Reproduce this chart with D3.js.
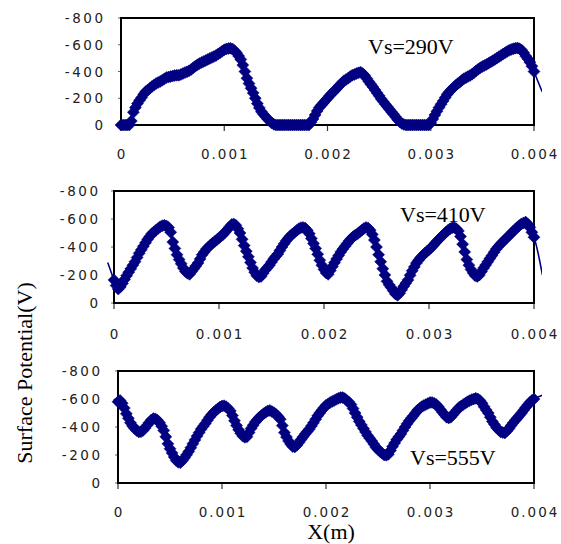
<!DOCTYPE html>
<html>
<head>
<meta charset="utf-8">
<script src="https://cdn.jsdelivr.net/npm/d3@7"></script>
<style>
  html, body { margin: 0; padding: 0; background: #fff; }
  svg { display: block; }
</style>
</head>
<body>
<script>
// Probe positions along the surface, in micrometres (20 µm pitch)
const positionsUm = [
     0,   20,   40,   60,   80,  100,  120,  140,  160,  180,
   200,  220,  240,  260,  280,  300,  320,  340,  360,  380,
   400,  420,  440,  460,  480,  500,  520,  540,  560,  580,
   600,  620,  640,  660,  680,  700,  720,  740,  760,  780,
   800,  820,  840,  860,  880,  900,  920,  940,  960,  980,
  1000, 1020, 1040, 1060, 1080, 1100, 1120, 1140, 1160, 1180,
  1200, 1220, 1240, 1260, 1280, 1300, 1320, 1340, 1360, 1380,
  1400, 1420, 1440, 1460, 1480, 1500, 1520, 1540, 1560, 1580,
  1600, 1620, 1640, 1660, 1680, 1700, 1720, 1740, 1760, 1780,
  1800, 1820, 1840, 1860, 1880, 1900, 1920, 1940, 1960, 1980,
  2000, 2020, 2040, 2060, 2080, 2100, 2120, 2140, 2160, 2180,
  2200, 2220, 2240, 2260, 2280, 2300, 2320, 2340, 2360, 2380,
  2400, 2420, 2440, 2460, 2480, 2500, 2520, 2540, 2560, 2580,
  2600, 2620, 2640, 2660, 2680, 2700, 2720, 2740, 2760, 2780,
  2800, 2820, 2840, 2860, 2880, 2900, 2920, 2940, 2960, 2980,
  3000, 3020, 3040, 3060, 3080, 3100, 3120, 3140, 3160, 3180,
  3200, 3220, 3240, 3260, 3280, 3300, 3320, 3340, 3360, 3380,
  3400, 3420, 3440, 3460, 3480, 3500, 3520, 3540, 3560, 3580,
  3600, 3620, 3640, 3660, 3680, 3700, 3720, 3740, 3760, 3780,
  3800, 3820, 3840, 3860, 3880, 3900, 3920, 3940, 3960, 3980,
  4000
];

// Surface potential (V) at each position, Vs = 290 V
const potential290 = [
     0,    0,    0,    0,    0,  -30,  -95, -130, -160, -185,
  -205, -230, -250, -262, -275, -288, -300, -310, -318, -326,
  -335, -345, -355, -358, -362, -366, -370, -372, -372, -378,
  -385, -392, -398, -405, -415, -428, -440, -450, -460, -468,
  -475, -482, -490, -498, -505, -512, -520, -530, -540, -552,
  -562, -568, -572, -574, -568, -556, -538, -515, -490, -448,
  -400, -350, -310, -275, -240, -200, -160, -128, -100,  -80,
   -62,  -45,  -30,  -15,   -5,    0,    0,    0,    0,    0,
     0,    0,    0,    0,    0,    0,    0,    0,    0,    0,
     0,    0,  -20,  -45,  -75, -105, -130, -148, -165, -183,
  -200, -218, -235, -250, -265, -283, -300, -315, -330, -340,
  -350, -362, -372, -378, -385, -390, -395, -385, -370, -348,
  -325, -305, -285, -262, -240, -218, -195, -175, -155, -136,
  -118,  -98,  -80,  -60,  -40,  -24,  -12,   -4,    0,    0,
     0,    0,    0,    0,    0,    0,    0,    0,    0,    0,
   -15,  -45,  -75, -103, -130, -155, -180, -205, -230, -248,
  -265, -280, -295, -308, -320, -333, -345, -354, -362, -370,
  -380, -392, -405, -417, -428, -437, -445, -453, -462, -471,
  -480, -490, -500, -510, -520, -530, -540, -550, -558, -565,
  -570, -574, -576, -570, -560, -540, -515, -495, -470, -440,
  -400
];

// Surface potential (V), Vs = 410 V
const potential410 = [
  -165, -125, -100, -115, -140, -168, -195, -220, -245, -270,
  -295, -325, -355, -380, -405, -430, -455, -475, -495, -508,
  -520, -533, -545, -552, -555, -550, -540, -505, -435, -390,
  -345, -310, -280, -250, -225, -212, -205, -225, -245, -265,
  -285, -315, -345, -365, -385, -400, -415, -428, -440, -452,
  -465, -478, -490, -508, -525, -543, -560, -565, -555, -530,
  -500, -455, -410, -370, -330, -290, -250, -220, -195, -185,
  -190, -212, -235, -252, -270, -292, -315, -333, -350, -375,
  -400, -423, -445, -463, -480, -493, -505, -518, -530, -538,
  -540, -535, -520, -495, -460, -425, -390, -348, -305, -270,
  -240, -215, -205, -232, -260, -288, -315, -340, -365, -385,
  -405, -425, -445, -460, -475, -485, -495, -508, -520, -532,
  -540, -535, -520, -490, -450, -400, -345, -295, -245, -200,
  -155, -130, -110,  -88,  -65,  -55,  -70,  -95, -120, -142,
  -165, -198, -230, -258, -285, -305, -325, -340, -355, -368,
  -380, -395, -410, -428, -445, -460, -475, -490, -505, -518,
  -530, -537, -540, -530, -515, -475, -420, -365, -310, -270,
  -240, -215, -195, -190, -200, -225, -250, -272, -295, -318,
  -340, -363, -385, -403, -420, -435, -450, -465, -480, -495,
  -510, -525, -540, -553, -565, -572, -578, -565, -540, -505,
  -470
];

// Surface potential (V), Vs = 555 V
const potential555 = [
  -580, -590, -570, -535, -495, -462, -430, -408, -390, -375,
  -365, -366, -375, -392, -412, -432, -450, -460, -458, -448,
  -430, -405, -375, -330, -280, -245, -215, -185, -160, -148,
  -145, -160, -180, -202, -225, -252, -280, -308, -335, -360,
  -385, -405, -425, -448, -470, -488, -505, -518, -530, -542,
  -550, -552, -545, -532, -515, -482, -445, -410, -380, -355,
  -335, -326, -330, -360, -390, -413, -435, -453, -470, -483,
  -495, -505, -515, -518, -510, -502, -490, -475, -455, -410,
  -360, -328, -300, -278, -260, -258, -270, -290, -310, -330,
  -350, -368, -385, -408, -430, -455, -480, -500, -520, -538,
  -555, -565, -575, -583, -590, -598, -605, -610, -610, -603,
  -590, -578, -560, -532, -500, -470, -440, -415, -390, -365,
  -340, -320, -300, -278, -255, -240, -225, -212, -200, -198,
  -205, -232, -260, -285, -310, -330, -350, -375, -400, -423,
  -445, -463, -480, -500, -520, -533, -545, -553, -560, -568,
  -575, -575, -570, -560, -545, -525, -505, -487, -470, -465,
  -470, -488, -505, -523, -540, -550, -560, -570, -580, -588,
  -595, -600, -605, -600, -590, -570, -545, -522, -500, -470,
  -440, -418, -395, -380, -365, -360, -358, -372, -390, -410,
  -430, -448, -465, -483, -500, -520, -540, -558, -575, -590,
  -600
];

// Readings just outside the 0–4 mm window (µm, V); only the trace line reaches them
const outside290 = [[4080, -247]];
const outside410 = [[-60, -290], [4080, -201]];
const outside555 = [[-40, -600], [4080, -626]];

const xTicks = [0, 0.001, 0.002, 0.003, 0.004];
const yTicks = [0, -200, -400, -600, -800];
const panelTitles = ["Vs=290V", "Vs=410V", "Vs=555V"];
const yAxisTitle = "Surface Potential(V)";
const xAxisTitle = "X(m)";

// ---- layout ----
const W = 561, H = 544;
const NAVY = "#000080";
const panels = [
  { values: potential290, outside: outside290, title: panelTitles[0],
    left: 121, right: 534, top: 18, bottom: 125, titleX: 368, titleY: 54, tickLabelY: 159, yLabelRight: 103 },
  { values: potential410, outside: outside410, title: panelTitles[1],
    left: 114, right: 534, top: 191, bottom: 303, titleX: 400, titleY: 222, tickLabelY: 339, yLabelRight: 98 },
  { values: potential555, outside: outside555, title: panelTitles[2],
    left: 118, right: 534, top: 371, bottom: 483, titleX: 410, titleY: 465, tickLabelY: 517, yLabelRight: 100 }
];

const svg = d3.select("body").append("svg")
  .attr("width", W).attr("height", H)
  .attr("viewBox", `0 0 ${W} ${H}`);

svg.append("rect").attr("width", W).attr("height", H).attr("fill", "#fff");

const tickFont = "'DejaVu Sans', Verdana, sans-serif";
const serifFont = "'Liberation Serif', 'Times New Roman', serif";
const diamond = r => `M0,${-r}L${r},0L0,${r}L${-r},0Z`;

panels.forEach((p, i) => {
  const x = d3.scaleLinear().domain([0, 0.004]).range([p.left, p.right]);
  const y = d3.scaleLinear().domain([0, -800]).range([p.bottom, p.top]);
  const g = svg.append("g");

  // x tick marks below the axis
  g.selectAll("line.xt").data(xTicks).join("line")
    .attr("x1", d => x(d)).attr("x2", d => x(d))
    .attr("y1", p.bottom).attr("y2", p.bottom + 6)
    .attr("stroke", "#333").attr("stroke-width", 1.2);

  // short y tick marks outside the frame
  g.selectAll("line.yt").data(yTicks).join("line")
    .attr("x1", p.left - 3).attr("x2", p.left)
    .attr("y1", d => y(d)).attr("y2", d => y(d))
    .attr("stroke", "#666").attr("stroke-width", 1);

  // x tick labels
  g.selectAll("text.xl").data(xTicks).join("text")
    .attr("x", d => x(d) + 1).attr("y", p.tickLabelY)
    .attr("text-anchor", "middle")
    .attr("font-family", tickFont).attr("font-size", 13.5)
    .attr("letter-spacing", "2px").attr("fill", "#222")
    .text(d => d === 0 ? "0" : d3.format(".3f")(d));

  // y tick labels
  g.selectAll("text.yl").data(yTicks).join("text")
    .attr("x", p.yLabelRight + 2.5).attr("y", d => y(d) + 5)
    .attr("text-anchor", "end")
    .attr("font-family", tickFont).attr("font-size", 13.5)
    .attr("letter-spacing", "2.5px").attr("fill", "#222")
    .text(d => String(d));

  // plot frame
  g.append("rect")
    .attr("x", p.left).attr("y", p.top)
    .attr("width", p.right - p.left).attr("height", p.bottom - p.top)
    .attr("fill", "none").attr("stroke", "#000").attr("stroke-width", 2);

  // trace line, allowed to run a few pixels past the frame
  const clipId = "clip" + i;
  svg.append("clipPath").attr("id", clipId).append("rect")
    .attr("x", p.left - 7).attr("y", p.top - 8)
    .attr("width", p.right - p.left + 15).attr("height", p.bottom - p.top + 16);

  const pts = positionsUm.map((u, k) => [u / 1e6, p.values[k]]);
  const linePts = [];
  p.outside.filter(o => o[0] < 0).forEach(o => linePts.push([o[0] / 1e6, o[1]]));
  pts.forEach(q => linePts.push(q));
  p.outside.filter(o => o[0] > 0).forEach(o => linePts.push([o[0] / 1e6, o[1]]));

  g.append("path")
    .attr("clip-path", `url(#${clipId})`)
    .attr("d", d3.line().x(d => x(d[0])).y(d => y(d[1])).curve(d3.curveMonotoneX)(linePts))
    .attr("fill", "none").attr("stroke", NAVY).attr("stroke-width", 1.6);

  // diamond markers
  g.selectAll("path.m").data(pts).join("path")
    .attr("transform", d => `translate(${x(d[0])},${y(d[1])})`)
    .attr("d", diamond(6))
    .attr("fill", NAVY).attr("stroke", NAVY).attr("stroke-width", 0.5);

  // series annotation
  g.append("text")
    .attr("x", p.titleX).attr("y", p.titleY)
    .attr("font-family", serifFont).attr("font-size", 22)
    .attr("fill", "#000").text(p.title);
});

// axis titles
svg.append("text")
  .attr("transform", "translate(32,373) rotate(-90)")
  .attr("text-anchor", "middle")
  .attr("font-family", serifFont).attr("font-size", 22)
  .attr("fill", "#000").text(yAxisTitle);

svg.append("text")
  .attr("x", 331).attr("y", 539)
  .attr("text-anchor", "middle")
  .attr("font-family", serifFont).attr("font-size", 22)
  .attr("fill", "#000").text(xAxisTitle);
</script>
</body>
</html>
